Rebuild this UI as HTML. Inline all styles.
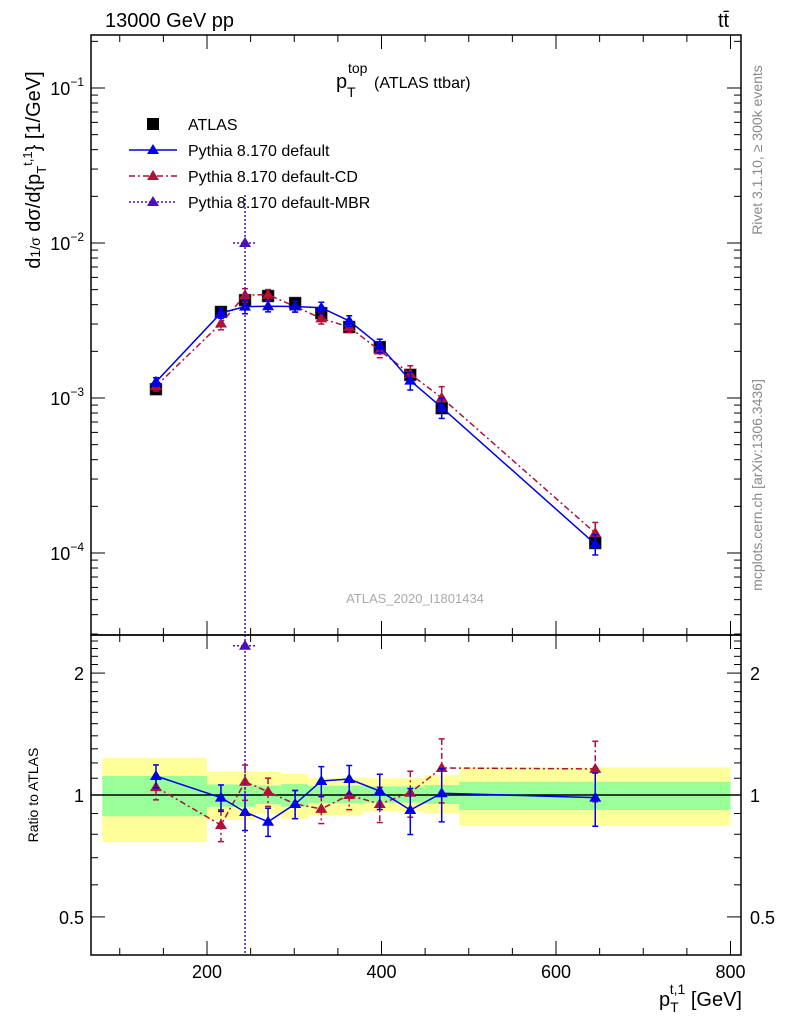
<!DOCTYPE html>
<html><head><meta charset="utf-8"><style>
body{margin:0;background:#fff;}
svg{display:block;font-family:"Liberation Sans",sans-serif;}
</style></head><body>
<svg id="chart" width="786" height="1024" viewBox="0 0 786 1024" xmlns="http://www.w3.org/2000/svg">
<g id="bands"></g>
<g id="marks"></g>
<g id="axes"></g>
<text x="105" y="27" font-size="20">13000 GeV pp</text>
<text x="718" y="27" font-size="20">tt̄</text>
<g>
<text x="336" y="88" font-size="20">p</text>
<text x="348" y="73" font-size="14">top</text>
<text x="347" y="97" font-size="14">T</text>
<text x="374" y="88" font-size="16">(ATLAS ttbar)</text>
</g>
<text x="415" y="603" font-size="13" fill="#aaa" text-anchor="middle">ATLAS_2020_I1801434</text>
<text transform="translate(762,150) rotate(-90)" font-size="14" fill="#888" text-anchor="middle">Rivet 3.1.10, ≥ 300k events</text>
<text transform="translate(762,485) rotate(-90)" font-size="14" fill="#888" text-anchor="middle">mcplots.cern.ch [arXiv:1306.3436]</text>
<text transform="translate(40,170) rotate(-90)" font-size="20" text-anchor="middle">d<tspan font-size="14">1/σ</tspan> dσ/d{p<tspan font-size="13" dy="6">T</tspan><tspan font-size="13" dy="-14">t,1</tspan><tspan dy="8">} [1/GeV]</tspan></text>
<text transform="translate(38,795) rotate(-90)" font-size="14" text-anchor="middle">Ratio to ATLAS</text>
<text x="742" y="1006" font-size="20" text-anchor="end">p<tspan font-size="14" dy="6">T</tspan><tspan font-size="14" dx="-9" dy="-18">t,1</tspan><tspan dy="12"> [GeV]</tspan></text>
<g>
<rect x="147" y="118" width="12" height="12" fill="#000"/>
<text x="188" y="130" font-size="16">ATLAS</text>
<line x1="129" y1="150" x2="177" y2="150" stroke="#0000e6" stroke-width="1.5"/>
<polygon points="153,144 159,154 147,154" fill="#0000e6"/>
<text x="188" y="156" font-size="16">Pythia 8.170 default</text>
<line x1="129" y1="176" x2="177" y2="176" stroke="#b0103a" stroke-width="1.5" stroke-dasharray="6,3,2,3"/>
<polygon points="153,170 159,180 147,180" fill="#b0103a"/>
<text x="188" y="182" font-size="16">Pythia 8.170 default-CD</text>
<line x1="129" y1="202" x2="177" y2="202" stroke="#4b10b8" stroke-width="1.5" stroke-dasharray="2,2"/>
<polygon points="153,196 159,206 147,206" fill="#4b10b8"/>
<text x="188" y="208" font-size="16">Pythia 8.170 default-MBR</text>
</g>
</svg>
<script>
const xs = [141.5, 216, 243.6, 270, 301, 331, 363, 398, 433, 469, 645];
const atlas = [1.14e-3, 3.59e-3, 4.28e-3, 4.55e-3, 4.10e-3, 3.53e-3, 2.87e-3, 2.13e-3, 1.41e-3, 0.86e-3, 1.16e-4];
const ratioDefault = [1.114, 0.985, 0.908, 0.859, 0.95, 1.083, 1.095, 1.023, 0.918, 1.01, 0.985];
const ratioCD = [1.046, 0.843, 1.078, 1.019, 0.95, 0.924, 1.0, 0.95, 1.013, 1.166, 1.16];
const errDefault = [0.065, 0.075, 0.1, 0.08, 0.08, 0.085, 0.08, 0.1, 0.13, 0.15, 0.15];
const errCD = [0.07, 0.09, 0.1, 0.08, 0.08, 0.08, 0.08, 0.1, 0.13, 0.18, 0.17];
const mbrX = [243.6];
const mbrVal = [1.0e-2];
const bandEdges = [80, 200, 256, 285, 316, 379, 449, 489, 800];
const yellowUp = [1.236, 1.144, 1.14, 1.127, 1.10, 1.10, 1.12, 1.17, 1.184];
const yellowDn = [0.765, 0.868, 0.90, 0.873, 0.89, 0.91, 0.90, 0.84, 0.82];
const greenUp = [1.114, 1.062, 1.055, 1.064, 1.054, 1.05, 1.058, 1.078, 1.093];
const greenDn = [0.886, 0.935, 0.95, 0.936, 0.954, 0.957, 0.95, 0.918, 0.906];
const xTicks = [200, 400, 600, 800];
const mainTicks = [-1, -2, -3, -4];
const ratioTicks = [2, 1, 0.5];
const ratioTickLabels = ["2", "1", "0.5"];

const NS = "http://www.w3.org/2000/svg";
const L = 91, R = 741, T = 35, M = 635, B = 955;
function X(v){ return 32.5 + v * 0.8725; }
function Y(v){ return 88 + (-1 - Math.log10(v)) * 155; }
function RY(v){ return 795 - Math.log10(v) * 405; }
function mk(parent, tag, attrs){ const e = document.createElementNS(NS, tag); for (const k in attrs) e.setAttribute(k, attrs[k]); parent.appendChild(e); return e; }
const bands = document.getElementById('bands'), marks = document.getElementById('marks'), axes = document.getElementById('axes');

for (let i = 0; i < yellowUp.length; i++) {
  const x1 = X(bandEdges[i]), x2 = X(bandEdges[i+1]);
  const y = mk(bands, 'rect', {x: x1, y: RY(yellowUp[i]), width: x2 - x1, height: RY(yellowDn[i]) - RY(yellowUp[i]), fill: '#ffff99'});
  
  
  const g = mk(bands, 'rect', {x: x1, y: RY(greenUp[i]), width: x2 - x1, height: RY(greenDn[i]) - RY(greenUp[i]), fill: '#99ff99'});
  
  
}
const one = mk(bands, 'line', {x1: L, x2: R, y1: RY(1), y2: RY(1), stroke: '#000', 'stroke-width': 1.5});



function tri(x, y, c, name){
  const p = mk(marks, 'polygon', {points: `${x},${y-6} ${x+6},${y+4} ${x-6},${y+4}`, fill: c});
  
  
}
function err(x, y1, y2, c, dash, name){
  const l = mk(marks, 'line', {x1: x, x2: x, y1: y1, y2: y2, stroke: c, 'stroke-width': 1.5, 'stroke-dasharray': dash});
  
  
  mk(marks, 'line', {x1: x-3, x2: x+3, y1: y1, y2: y1, stroke: c, 'stroke-width': 1.5});
  mk(marks, 'line', {x1: x-3, x2: x+3, y1: y2, y2: y2, stroke: c, 'stroke-width': 1.5});
}
function series(ratios, errs, color, dash, name){
  const main = xs.map((x, i) => [X(x), Y(atlas[i] * ratios[i])]);
  const rat = xs.map((x, i) => [X(x), RY(ratios[i])]);
  [main, rat].forEach((pts, k) => {
    const pl = mk(marks, 'polyline', {points: pts.map(p => p.join(',')).join(' '), fill: 'none', stroke: color, 'stroke-width': 1.5, 'stroke-dasharray': dash});
    
    
  });
  xs.forEach((x, i) => {
    const v = atlas[i] * ratios[i], e = errs[i];
    err(X(x), Y(v * (1 + e)), Y(v * (1 - e)), color, dash, name + '-error');
    err(X(x), RY(ratios[i] * (1 + e)), RY(ratios[i] * (1 - e)), color, dash, name + '-ratio-error');
    tri(X(x), Y(v), color, name + '-point');
    tri(X(x), RY(ratios[i]), color, name + '-ratio-point');
  });
}
xs.forEach((x, i) => {
  const s = mk(marks, 'rect', {x: X(x) - 6, y: Y(atlas[i]) - 6, width: 12, height: 12, fill: '#000', stroke: '#555', 'stroke-width': 0.5});
  
  
});
series(ratioCD, errCD, '#b0103a', '6,3,2,3', 'pythia-cd');
series(ratioDefault, errDefault, '#0000e6', '', 'pythia-default');
mbrX.forEach((x, i) => {
  const px = X(x), v = mbrVal[i], r = v / atlas[2];
  const vl = mk(marks, 'line', {x1: px, x2: px, y1: 195, y2: B, stroke: '#4b10b8', 'stroke-width': 1.5, 'stroke-dasharray': '2,2'});
  
  
  mk(marks, 'line', {x1: px - 12, x2: px + 12, y1: Y(v), y2: Y(v), stroke: '#4b10b8', 'stroke-width': 1.5, 'stroke-dasharray': '2,2'});
  mk(marks, 'line', {x1: px - 12, x2: px + 12, y1: RY(r), y2: RY(r), stroke: '#4b10b8', 'stroke-width': 1.5, 'stroke-dasharray': '2,2'});
  tri(px, Y(v), '#4b10b8', 'pythia-mbr-point');
  tri(px, RY(r), '#4b10b8', 'pythia-mbr-ratio-point');
});

[[T, M], [M, B]].forEach(([t, b], k) => {
  const f = mk(axes, 'rect', {x: L, y: t, width: R - L, height: b - t, fill: 'none', stroke: '#000', 'stroke-width': 1.5});
  
  
  for (let v = 100; v <= 800; v += 50) {
    const len = (v % 200 === 0) ? 14 : 7, px = X(v);
    mk(axes, 'line', {x1: px, x2: px, y1: t, y2: t + len, stroke: '#000'});
    mk(axes, 'line', {x1: px, x2: px, y1: b, y2: b - len, stroke: '#000'});
  }
});
xTicks.forEach(v => {
  const t = mk(axes, 'text', {x: X(v), y: 978, 'font-size': 18, 'text-anchor': 'middle'});
  t.textContent = String(v);
  
  
});
for (let d = -5; d <= -1; d++) {
  for (let m = 1; m <= 9; m++) {
    const py = Y(m * Math.pow(10, d));
    if (py < T || py > M) continue;
    const len = m === 1 ? 14 : 7;
    mk(axes, 'line', {x1: L, x2: L + len, y1: py, y2: py, stroke: '#000'});
    mk(axes, 'line', {x1: R, x2: R - len, y1: py, y2: py, stroke: '#000'});
  }
}
mainTicks.forEach(d => {
  const t = mk(axes, 'text', {x: 84, y: Y(Math.pow(10, d)) + 7, 'font-size': 18, 'text-anchor': 'end'});
  t.innerHTML = '10<tspan font-size="12" dy="-9">\u2212' + (-d) + '</tspan>';
  
  
});
[0.5, 0.6, 0.7, 0.8, 0.9, 1, 1.1, 1.2, 1.3, 1.4, 1.5, 1.6, 1.7, 1.8, 1.9, 2, 2.1, 2.2, 2.3, 2.4].forEach(v => {
  const py = RY(v), len = (v === 0.5 || v === 1 || v === 2) ? 14 : 7;
  mk(axes, 'line', {x1: L, x2: L + len, y1: py, y2: py, stroke: '#000'});
  mk(axes, 'line', {x1: R, x2: R - len, y1: py, y2: py, stroke: '#000'});
});
ratioTicks.forEach((v, i) => {
  [[84, 'end'], [750, 'start']].forEach(([x, a]) => {
    const t = mk(axes, 'text', {x: x, y: RY(v) + 7, 'font-size': 18, 'text-anchor': a});
    t.textContent = ratioTickLabels[i];
    
    
  });
});
</script>
</body></html>
